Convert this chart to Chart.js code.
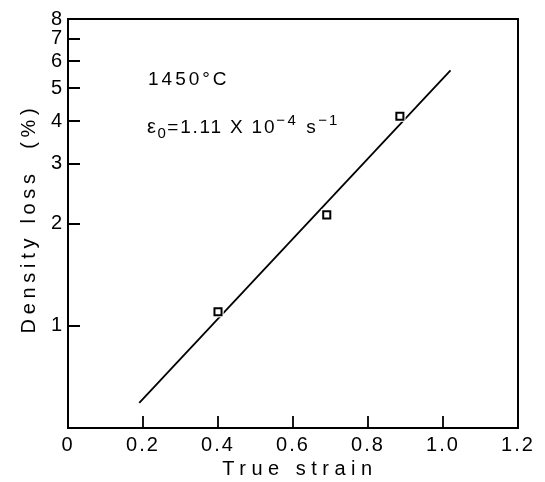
<!DOCTYPE html>
<html><head><meta charset="utf-8">
<script src="https://cdn.jsdelivr.net/npm/chart.js@4"></script>
<style>html,body{margin:0;padding:0;background:#fff}</style>
</head><body><canvas id="c" width="545" height="482"></canvas>
<script>
// ---- data ----
const xTickValues = [0, 0.2, 0.4, 0.6, 0.8, 1.0, 1.2];
const yTickValues = [1, 2, 3, 4, 5, 6, 7, 8];
const strainData = [0.40, 0.69, 0.885];
const densityLossData = [1.10, 2.12, 4.14];
const fitStrain = [0.19, 1.02];
const fitDensityLoss = [0.593, 5.65];
const xTitle = 'True strain';
const yTitle = 'Density loss  (%)';
const annoTemp = '1450°C';

const FONT = '"Liberation Sans", Arial, Helvetica, sans-serif';
const TITLE_STYLE = {x: {sp: '5.5px', dx: 7, dy: 0}, y: {sp: '4.7px', dx: 0, dy: -5}};

const measured = strainData.map((x, i) => ({x, y: densityLossData[i]}));
const fit = fitStrain.map((x, i) => ({x, y: fitDensityLoss[i]}));

const stylePlugin = {
  id: 'style',
  beforeDraw(chart) {
    chart.ctx.letterSpacing = '2px';
    for (const s of Object.values(chart.scales)) {
      if (!s._wrappedTitle) {
        const orig = s.drawTitle;
        const st = TITLE_STYLE[s.id] || {sp: '5px', dx: 0, dy: 0};
        s.drawTitle = function () {
          const c = this.ctx; const prev = c.letterSpacing;
          c.save();
          c.translate(st.dx, st.dy);
          c.letterSpacing = st.sp; orig.call(this);
          c.restore();
          c.letterSpacing = prev;
        };
        s._wrappedTitle = true;
      }
    }
  },
  afterDraw(chart) {
    const {ctx, chartArea: a, scales: {x, y}} = chart;
    ctx.save();
    ctx.strokeStyle = '#000';
    ctx.lineWidth = 2;
    ctx.strokeRect(a.left, a.top, a.right - a.left, a.bottom - a.top);
    ctx.lineWidth = 1.8;
    ctx.beginPath();
    yTickValues.forEach(v => {
      if (v >= 8) return;
      const py = Math.round(y.getPixelForValue(v));
      ctx.moveTo(a.left, py); ctx.lineTo(a.left + 12, py);
    });
    xTickValues.forEach(v => {
      if (v <= 0 || v >= 1.2) return;
      const px = Math.round(x.getPixelForValue(v));
      ctx.moveTo(px, a.bottom); ctx.lineTo(px, a.bottom - 12);
    });
    ctx.stroke();

    // annotations
    ctx.fillStyle = '#000';
    ctx.textBaseline = 'alphabetic';
    ctx.textAlign = 'left';
    ctx.letterSpacing = '3px';
    const x0 = a.left + 80;
    const b1 = a.top + 66;
    ctx.font = '19px ' + FONT;
    ctx.fillText(annoTemp, x0, b1);

    const b2 = a.top + 114;
    const pieces = [
      {t: 'ε', size: 20, dy: 0, ls: 1.5},
      {t: '0', size: 15, dy: 5, ls: 1.5},
      {t: '=1.11 X 10', size: 19, dy: 0, ls: 1.8},
      {t: '−4', size: 15, dy: -8, ls: 2.5},
      {t: ' s', size: 19, dy: 0, ls: 2.5},
      {t: '−1', size: 15, dy: -8, ls: 2}
    ];
    let cx = x0 - 1;
    pieces.forEach(p => {
      ctx.font = p.size + 'px ' + FONT;
      ctx.letterSpacing = p.ls + 'px';
      ctx.fillText(p.t, cx, b2 + p.dy);
      cx += ctx.measureText(p.t).width;
    });
    ctx.restore();
    ctx.letterSpacing = '0px';
  }
};

new Chart(document.getElementById('c'), {
  type: 'scatter',
  data: {
    datasets: [
      {label: 'Measured', data: measured, pointStyle: 'rect', pointRadius: 5, pointBorderWidth: 2,
       pointBackgroundColor: '#fff', pointBorderColor: '#000', order: 1},
      {label: 'gap', data: measured, pointStyle: 'rect', pointRadius: 8, pointBorderWidth: 0,
       pointBackgroundColor: '#fff', pointBorderColor: '#fff', order: 2},
      {label: 'Fit', data: fit, showLine: true, borderColor: '#000', borderWidth: 1.8,
       pointRadius: 0, order: 3}
    ]
  },
  options: {
    responsive: false,
    animation: false,
    devicePixelRatio: 1,
    layout: {padding: {left: 0, right: 27, top: 19, bottom: 0}},
    plugins: {legend: {display: false}, tooltip: {enabled: false}},
    scales: {
      x: {
        type: 'linear', min: 0, max: 1.2,
        afterBuildTicks: s => { s.ticks = xTickValues.map(v => ({value: v})); },
        afterFit: s => { s.height = 54; },
        ticks: {callback: v => v === 0 ? '0' : Number(v).toFixed(1), font: {family: FONT, size: 20},
                color: '#000', padding: 5, maxRotation: 0, autoSkip: false},
        grid: {display: false, drawTicks: false},
        border: {display: false},
        title: {display: true, text: xTitle, color: '#000', font: {family: FONT, size: 20},
                padding: {top: 0, bottom: 1}}
      },
      y: {
        type: 'logarithmic', min: 0.5, max: 8,
        afterBuildTicks: s => { s.ticks = yTickValues.map(v => ({value: v})); },
        afterFit: s => { s.width = 68; },
        ticks: {callback: v => String(v), font: {family: FONT, size: 20}, color: '#000',
                padding: 4, autoSkip: false},
        grid: {display: false, drawTicks: false},
        border: {display: false},
        title: {display: true, text: yTitle, color: '#000', font: {family: FONT, size: 20},
                padding: {top: 17, bottom: 0}}
      }
    }
  },
  plugins: [stylePlugin]
});
</script>
</body></html>
